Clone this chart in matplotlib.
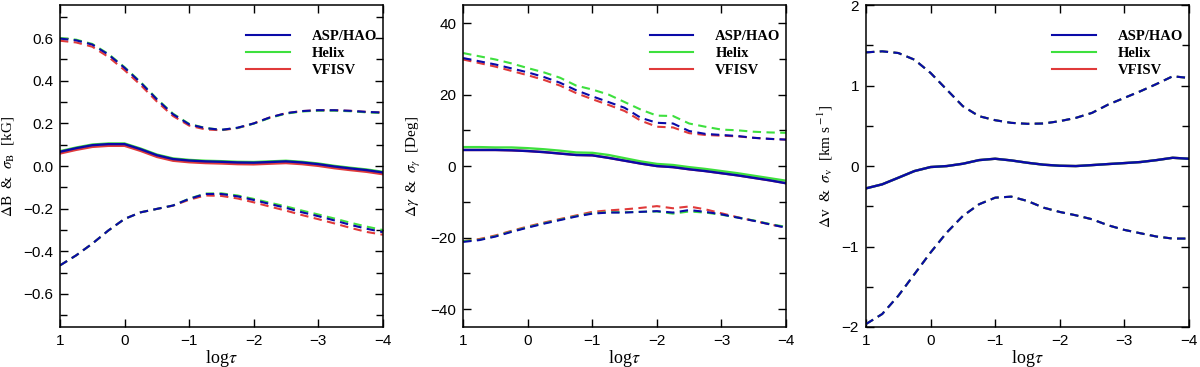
import matplotlib
matplotlib.use("Agg")
import matplotlib.pyplot as plt
from matplotlib.lines import Line2D
from matplotlib.ticker import MultipleLocator

# ---------------- data ----------------
logtau = [1.0, 0.75, 0.5, 0.25, 0.0, -0.25, -0.5, -0.75, -1.0, -1.25, -1.5,
          -1.75, -2.0, -2.25, -2.5, -2.75, -3.0, -3.25, -3.5, -3.75, -4.0]
methods = ["ASP/HAO", "Helix", "VFISV"]

# Panel 1: magnetic field strength [kG]
B_mean_asp = [0.067, 0.084, 0.098, 0.103, 0.103, 0.079, 0.051, 0.033, 0.026, 0.022, 0.020,
              0.017, 0.016, 0.019, 0.022, 0.017, 0.009, -0.002, -0.011, -0.019, -0.030]
B_mean_hel = [0.070, 0.087, 0.101, 0.106, 0.106, 0.082, 0.054, 0.036, 0.029, 0.025, 0.023,
              0.020, 0.019, 0.022, 0.025, 0.020, 0.012, 0.001, -0.008, -0.016, -0.027]
B_mean_vfi = [0.059, 0.076, 0.090, 0.095, 0.095, 0.071, 0.043, 0.025, 0.018, 0.014, 0.012,
              0.009, 0.008, 0.011, 0.014, 0.009, 0.001, -0.010, -0.019, -0.027, -0.038]
B_sup_asp = [0.598, 0.590, 0.570, 0.523, 0.461, 0.391, 0.313, 0.243, 0.196, 0.178, 0.170,
             0.180, 0.200, 0.228, 0.248, 0.258, 0.262, 0.262, 0.259, 0.254, 0.251]
B_sup_hel = [0.601, 0.593, 0.573, 0.526, 0.464, 0.394, 0.316, 0.246, 0.198, 0.179, 0.170,
             0.179, 0.199, 0.226, 0.246, 0.256, 0.260, 0.260, 0.257, 0.252, 0.249]
B_sup_vfi = [0.588, 0.580, 0.560, 0.512, 0.450, 0.380, 0.303, 0.235, 0.190, 0.172, 0.168,
             0.178, 0.200, 0.228, 0.248, 0.258, 0.262, 0.262, 0.259, 0.254, 0.251]
B_sdn_asp = [-0.466, -0.419, -0.364, -0.302, -0.248, -0.217, -0.201, -0.185, -0.154, -0.131, -0.131,
             -0.142, -0.159, -0.178, -0.196, -0.217, -0.235, -0.255, -0.276, -0.294, -0.310]
B_sdn_hel = [-0.466, -0.419, -0.364, -0.302, -0.248, -0.217, -0.201, -0.185, -0.153, -0.129, -0.128,
             -0.138, -0.154, -0.172, -0.189, -0.209, -0.227, -0.246, -0.266, -0.284, -0.300]
B_sdn_vfi = [-0.466, -0.419, -0.364, -0.302, -0.248, -0.217, -0.201, -0.186, -0.158, -0.138, -0.140,
             -0.152, -0.170, -0.190, -0.209, -0.230, -0.249, -0.269, -0.290, -0.309, -0.322]

# Panel 2: inclination [deg]
G_mean_asp = [4.5, 4.5, 4.5, 4.4, 4.2, 3.9, 3.5, 3.1, 3.0, 2.3, 1.5,
              0.7, 0.0, -0.3, -0.9, -1.4, -2.0, -2.6, -3.3, -4.0, -4.8]
G_mean_hel = [5.3, 5.3, 5.2, 5.2, 5.0, 4.7, 4.3, 3.8, 3.7, 3.1, 2.2,
              1.3, 0.6, 0.3, -0.3, -0.8, -1.4, -2.0, -2.7, -3.4, -4.1]
G_mean_vfi = [4.5, 4.5, 4.5, 4.4, 4.2, 3.9, 3.5, 3.1, 3.0, 2.3, 1.5,
              0.7, 0.0, -0.3, -0.9, -1.4, -2.0, -2.6, -3.3, -4.0, -4.8]
G_sup_asp = [30.2, 29.3, 28.4, 27.3, 26.2, 24.9, 23.3, 21.2, 19.5, 17.9, 16.3,
             13.5, 12.1, 11.9, 9.8, 9.0, 8.7, 8.4, 7.9, 7.6, 7.4]
G_sup_hel = [31.6, 30.7, 29.8, 28.7, 27.4, 26.2, 24.7, 22.5, 21.4, 20.0, 17.9,
             15.8, 14.1, 14.0, 11.9, 11.0, 10.2, 10.0, 9.6, 9.4, 9.3]
G_sup_vfi = [29.8, 28.8, 27.8, 26.6, 25.4, 24.1, 22.5, 20.4, 18.7, 17.1, 15.4,
             12.7, 11.0, 10.8, 9.2, 8.7, 8.5, 8.3, 7.9, 7.6, 7.4]
G_sdn_asp = [-21.2, -20.7, -19.7, -18.4, -17.2, -16.1, -15.1, -14.1, -13.3, -13.0, -13.0,
             -12.8, -12.6, -13.0, -12.3, -12.8, -13.5, -14.4, -15.3, -16.3, -17.2]
G_sdn_hel = [-21.0, -20.6, -19.6, -18.3, -17.1, -16.0, -15.0, -14.0, -13.2, -12.9, -12.9,
             -12.8, -12.7, -13.3, -12.7, -13.0, -13.6, -14.4, -15.2, -16.2, -17.0]
G_sdn_vfi = [-21.0, -20.4, -19.4, -18.1, -16.9, -15.8, -14.8, -13.8, -12.8, -12.4, -12.1,
             -11.7, -11.2, -11.8, -11.3, -12.1, -13.2, -14.3, -15.3, -16.3, -17.2]

# Panel 3: velocity [km/s]
V_mean_asp = [-0.277, -0.227, -0.145, -0.062, -0.012, 0.000, 0.029, 0.074, 0.091, 0.070, 0.041,
              0.017, 0.004, 0.000, 0.012, 0.025, 0.037, 0.050, 0.074, 0.103, 0.091]
V_mean_hel = list(V_mean_asp)
V_mean_vfi = list(V_mean_asp)
V_sup_asp = [1.413, 1.426, 1.405, 1.322, 1.157, 0.950, 0.744, 0.620, 0.570, 0.537, 0.525,
             0.529, 0.558, 0.599, 0.661, 0.764, 0.847, 0.930, 1.020, 1.116, 1.095]
V_sup_hel = list(V_sup_asp)
V_sup_vfi = list(V_sup_asp)
V_sdn_asp = [-1.963, -1.839, -1.612, -1.343, -1.074, -0.826, -0.620, -0.475, -0.393, -0.380, -0.434,
             -0.517, -0.570, -0.612, -0.661, -0.736, -0.793, -0.835, -0.876, -0.901, -0.901]
V_sdn_hel = list(V_sdn_asp)
V_sdn_vfi = list(V_sdn_asp)

# ---------------- style ----------------
C_ASP = "#0a0aa8"
C_HEL = "#3ee03e"
C_VFI = "#e03a3a"
SERIF = ["Liberation Serif", "DejaVu Serif"]
SANS = ["Liberation Sans", "DejaVu Sans"]
plt.rcParams["mathtext.fontset"] = "stix"

fig = plt.figure(figsize=(12, 3.67), dpi=100)
W = 0.269
H = 0.877
B0 = 0.109
lefts = [0.050, 0.386, 0.7217]

panels = [
    dict(mean=[B_mean_vfi, B_mean_hel, B_mean_asp],
         sup=[B_sup_vfi, B_sup_hel, B_sup_asp],
         sdn=[B_sdn_vfi, B_sdn_hel, B_sdn_asp],
         ylim=(-0.755, 0.755), major=0.2, minor=0.1,
         ylabel=r"$\Delta$B  &  $\sigma_{\rm B}$  [kG]"),
    dict(mean=[G_mean_vfi, G_mean_hel, G_mean_asp],
         sup=[G_sup_vfi, G_sup_hel, G_sup_asp],
         sdn=[G_sdn_vfi, G_sdn_hel, G_sdn_asp],
         ylim=(-45, 45), major=20, minor=10,
         ylabel=r"$\Delta\gamma$  &  $\sigma_\gamma$  [Deg]"),
    dict(mean=[V_mean_vfi, V_mean_hel, V_mean_asp],
         sup=[V_sup_vfi, V_sup_hel, V_sup_asp],
         sdn=[V_sdn_vfi, V_sdn_hel, V_sdn_asp],
         ylim=(-2.0, 2.0), major=1, minor=0.5,
         ylabel=r"$\Delta$v  &  $\sigma_{\rm v}$  [km s$^{\rm -1}$]"),
]
colors = [C_VFI, C_HEL, C_ASP]
dash = (0, (4.0, 2.6))

for left, p in zip(lefts, panels):
    ax = fig.add_axes([left, B0, W, H])
    for c, ym, yu, yd in zip(colors, p["mean"], p["sup"], p["sdn"]):
        ax.plot(logtau, yu, color=c, lw=1.5, linestyle=dash)
        ax.plot(logtau, yd, color=c, lw=1.5, linestyle=dash)
        ax.plot(logtau, ym, color=c, lw=1.7)
    ax.set_xlim(1, -4)
    ax.set_ylim(*p["ylim"])
    ax.xaxis.set_major_locator(MultipleLocator(1))
    ax.yaxis.set_major_locator(MultipleLocator(p["major"]))
    ax.yaxis.set_minor_locator(MultipleLocator(p["minor"]))
    ax.tick_params(which="both", direction="in", top=True, right=True,
                   width=1.0, labelsize=11, pad=5)
    ax.tick_params(which="major", length=6)
    ax.tick_params(which="minor", length=5)
    for lab in ax.get_xticklabels() + ax.get_yticklabels():
        lab.set_family(SANS)
    for s in ax.spines.values():
        s.set_linewidth(1.1)
    ax.set_xlabel(r"log$\tau$", family=SERIF, fontsize=13, labelpad=0)
    ax.set_ylabel(p["ylabel"], family=SERIF, fontsize=11, labelpad=5)
    handles = [Line2D([], [], color=C_ASP, lw=1.5),
               Line2D([], [], color=C_HEL, lw=1.5),
               Line2D([], [], color=C_VFI, lw=1.5)]
    ax.legend(handles, methods, loc="upper left", bbox_to_anchor=(0.555, 0.945),
              frameon=False, borderpad=0, handlelength=3.0, handletextpad=1.5,
              labelspacing=0.25, prop=dict(family=SERIF, size=10.5, weight="bold"))

fig.savefig("out.png", dpi=100)
